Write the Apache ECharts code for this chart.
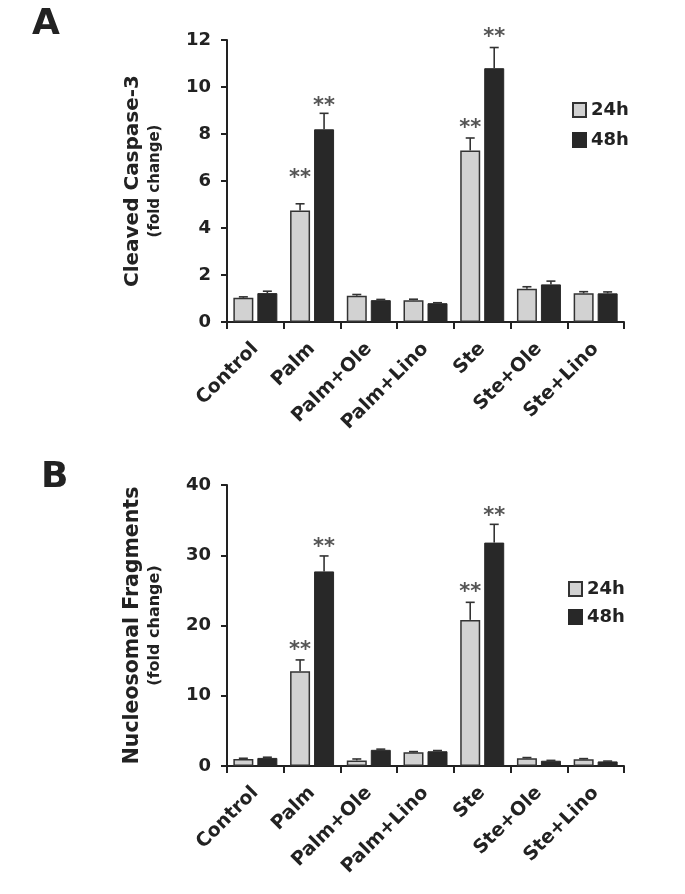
<!DOCTYPE html>
<html><head><meta charset="utf-8">
<script src="https://cdn.jsdelivr.net/npm/echarts@6/dist/echarts.min.js"></script>
<style>html,body{margin:0;padding:0;background:#fff}#c{width:685px;height:894px}</style>
</head><body><div id="c"></div>
<script>
const categories = ['Control','Palm','Palm+Ole','Palm+Lino','Ste','Ste+Ole','Ste+Lino'];
const legendNames = ['24h','48h'];
// Panel A: Cleaved Caspase-3 (fold change)
const caspase24 = [1.03, 4.75, 1.12, 0.93, 7.3, 1.42, 1.22];
const caspase24Err = [0.04, 0.28, 0.05, 0.04, 0.53, 0.08, 0.07];
const caspase48 = [1.23, 8.2, 0.93, 0.8, 10.8, 1.6, 1.22];
const caspase48Err = [0.08, 0.68, 0.03, 0.02, 0.88, 0.14, 0.06];
const caspase24Star = [null, 6.3, null, null, 8.45, null, null];
const caspase48Star = [null, 9.4, null, null, 12.3, null, null];
const caspaseTicks = {min: 0, max: 12, interval: 2};
// Panel B: Nucleosomal Fragments (fold change)
const nucleo24 = [1.0, 13.5, 0.8, 1.95, 20.8, 1.1, 0.95];
const nucleo24Err = [0.1, 1.6, 0.2, 0.1, 2.5, 0.1, 0.1];
const nucleo48 = [1.15, 27.7, 2.3, 2.1, 31.8, 0.75, 0.65];
const nucleo48Err = [0.1, 2.2, 0.1, 0.1, 2.6, 0.05, 0.05];
const nucleo24Star = [null, 17.2, null, null, 25.4, null, null];
const nucleo48Star = [null, 31.8, null, null, 36.2, null, null];
const nucleoTicks = {min: 0, max: 40, interval: 10};

const FONT = '"DejaVu Sans", Verdana, sans-serif';
const INK = '#222';
const DARK = '#282828';
const LIGHT = '#d2d2d2';
const BAR_W = 20, BAR_GAP = 4;

function errSeries(vals, errs, stars, sign, axisIdx){
  return {
    type: 'custom', xAxisIndex: axisIdx, yAxisIndex: axisIdx, z: 5, clip: false,
    data: vals.map((v,i)=>[i, v, errs[i], stars[i] == null ? NaN : stars[i]]),
    renderItem: function(params, api){
      const i = api.value(0), v = api.value(1), e = api.value(2), s = api.value(3);
      const base = api.coord([i, v]);
      const top = api.coord([i, v + e]);
      const cx = base[0] + sign * (BAR_W + BAR_GAP) / 2;
      const st = {stroke: '#333', lineWidth: 1.6};
      const ch = [
        {type:'line', shape:{x1:cx, y1:base[1], x2:cx, y2:top[1]}, style: st},
        {type:'line', shape:{x1:cx-4.5, y1:top[1], x2:cx+4.5, y2:top[1]}, style: st}
      ];
      if (!isNaN(s)) {
        const sp = api.coord([i, s]);
        ch.push({type:'text', x: cx, y: sp[1] + 5, style:{text:'**', fill:'#555', font:'bold 21px ' + FONT, align:'center', verticalAlign:'middle'}});
      }
      return {type:'group', children: ch};
    }
  };
}

function barSeries(name, vals, axisIdx, light){
  return {
    name: name, type: 'bar', xAxisIndex: axisIdx, yAxisIndex: axisIdx,
    data: vals, barWidth: BAR_W, barGap: (BAR_GAP / BAR_W * 100) + '%',
    itemStyle: light ? {color: LIGHT, borderColor: '#333', borderWidth: 1.5} : {color: DARK, borderColor: DARK, borderWidth: 1},
    emphasis: {disabled: true}, animation: false
  };
}

function xAx(gi){
  return {
    type:'category', gridIndex: gi, data: categories,
    axisLine:{lineStyle:{color:INK, width:2}},
    axisTick:{show:true, length:7, lineStyle:{color:INK, width:2}},
    axisLabel:{interval:0, rotate:45, fontFamily:FONT, fontWeight:'bold', fontSize:19, color:INK, margin:24}
  };
}
function yAx(gi, ticks, title, f1, f2){
  return {
    type:'value', gridIndex: gi, min: ticks.min, max: ticks.max, interval: ticks.interval,
    splitLine:{show:false},
    axisLine:{show:true, lineStyle:{color:INK, width:2}},
    axisTick:{show:true, length:6, lineStyle:{color:INK, width:2}},
    axisLabel:{fontFamily:FONT, fontWeight:'bold', fontSize:18, color:INK, margin:16},
    name: '{a|' + title + '}\n{b|(fold change)}',
    nameLocation:'middle', nameRotate:90, nameGap:62,
    nameTextStyle:{ align:'center', rich:{
      a:{fontFamily:FONT, fontWeight:'bold', fontSize:f1, color:INK, lineHeight:24, align:'center'},
      b:{fontFamily:FONT, fontWeight:'bold', fontSize:f2, color:INK, lineHeight:20, align:'center'}
    }}
  };
}

const legendText = {fontFamily:FONT, fontWeight:'bold', fontSize:18, color:INK, lineHeight:14};
const chart = echarts.init(document.getElementById('c'), null, {renderer:'canvas'});
chart.setOption({
  animation:false,
  backgroundColor:'#fff',
  grid:[
    {left:227, top:40, width:397, height:282},
    {left:227, top:485, width:397, height:281}
  ],
  xAxis:[xAx(0), xAx(1)],
  yAxis:[yAx(0, caspaseTicks, 'Cleaved Caspase-3', 20, 15), yAx(1, nucleoTicks, 'Nucleosomal Fragments', 20.5, 16)],
  legend:[
    {data: legendNames, orient:'vertical', left:567, top:96, icon:'rect', itemWidth:13, itemHeight:14, itemGap:12,
     textStyle:legendText, selectedMode:false},
    {data: legendNames, orient:'vertical', left:563, top:575, icon:'rect', itemWidth:13, itemHeight:14, itemGap:10,
     textStyle:legendText, selectedMode:false}
  ],
  graphic:[
    {type:'text', left:32, top:7, style:{text:'A', font:'bold 36px ' + FONT, fill:INK}},
    {type:'text', left:41, top:460, style:{text:'B', font:'bold 36px ' + FONT, fill:INK}}
  ],
  series:[
    barSeries('24h', caspase24, 0, true),
    barSeries('48h', caspase48, 0, false),
    errSeries(caspase24, caspase24Err, caspase24Star, -1, 0),
    errSeries(caspase48, caspase48Err, caspase48Star, 1, 0),
    barSeries('24h', nucleo24, 1, true),
    barSeries('48h', nucleo48, 1, false),
    errSeries(nucleo24, nucleo24Err, nucleo24Star, -1, 1),
    errSeries(nucleo48, nucleo48Err, nucleo48Star, 1, 1)
  ]
});
</script></body></html>
